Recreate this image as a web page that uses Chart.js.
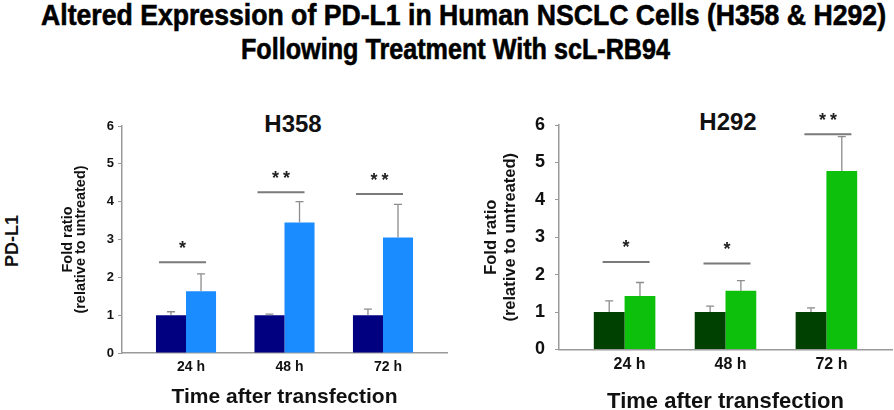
<!DOCTYPE html>
<html>
<head>
<meta charset="utf-8">
<script src="https://cdn.jsdelivr.net/npm/chart.js@4/dist/chart.umd.min.js"></script>
<style>
  body { margin: 0; width: 894px; height: 410px; background: #fff; position: relative; overflow: hidden;
         font-family: "Liberation Sans", Arial, sans-serif; color: #111; }
  .txt { position: absolute; font-weight: bold; white-space: nowrap; transform: translateX(-50%); }
  .main { font-size: 30px; line-height: 30px; transform-origin: 0 0; color: #000; -webkit-text-stroke: 0.6px #000; }
  .sub { font-size: 24px; line-height: 24px; }
  #pdl1 { position: absolute; left: 12px; top: 241px; font-weight: bold; font-size: 18px;
          transform: translate(-50%, -50%) rotate(-90deg); white-space: nowrap; }
  canvas { position: absolute; }
</style>
</head>
<body>
<div class="txt main" id="title1" data-left="41" data-width="845" style="top:0px;">Altered Expression of PD-L1 in Human NSCLC Cells (H358 &amp; H292)</div>
<div class="txt main" id="title2" data-left="241" data-width="429" style="top:34px;">Following Treatment With scL-RB94</div>
<div class="txt sub" style="left:293px; top:112px;">H358</div>
<div class="txt sub" style="left:728px; top:110px;">H292</div>
<div id="pdl1">PD-L1</div>

<div style="position:absolute; left:50px; top:95px; width:400px; height:315px;"><canvas id="h358Chart"></canvas></div>
<div style="position:absolute; left:478px; top:95px; width:416px; height:315px;"><canvas id="h292Chart"></canvas></div>

<script>
// time points
const timeLabels = ['24 h', '48 h', '72 h'];

// H358 fold ratios
const h358Control = [1.0, 1.0, 1.0];
const h358Treated = [1.63, 3.45, 3.05];
const h358ControlErr = [0.09, 0.03, 0.16];
const h358TreatedErr = [0.46, 0.55, 0.88];
const h358SigLevel = [2.4, 4.25, 4.2];
const h358SigMark = ['*', '**', '**'];

// H292 fold ratios
const h292Control = [1.0, 1.0, 1.0];
const h292Treated = [1.43, 1.57, 4.77];
const h292ControlErr = [0.3, 0.16, 0.11];
const h292TreatedErr = [0.36, 0.27, 0.92];
const h292SigLevel = [2.34, 2.3, 5.75];
const h292SigMark = ['*', '*', '**'];

const yTitle = ['Fold ratio', '(relative to untreated)'];
const xTitle = 'Time after transfection';

// the original title uses a narrow font, squeeze the text to its width
['title1', 'title2'].forEach(id => {
  const el = document.getElementById(id);
  const w = el.getBoundingClientRect().width;
  el.style.left = el.dataset.left + 'px';
  el.style.transform = 'scaleX(' + (el.dataset.width / w) + ')';
});

// error bars + significance bars drawn on top of the bars
const annotate = {
  id: 'annotate',
  afterDatasetsDraw(chart, args, opts) {
    const ctx = chart.ctx;
    const x = chart.scales.x, y = chart.scales.y;
    ctx.save();
    ctx.strokeStyle = '#8c8c8c';
    ctx.lineWidth = 1.3;
    chart.data.datasets.forEach((ds, di) => {
      chart.getDatasetMeta(di).data.forEach((bar, i) => {
        const top = y.getPixelForValue(ds.data[i].y + ds.errors[i]);
        ctx.beginPath();
        ctx.moveTo(bar.x, bar.y);
        ctx.lineTo(bar.x, top);
        ctx.moveTo(bar.x - 4, top);
        ctx.lineTo(bar.x + 4, top);
        ctx.stroke();
      });
    });
    ctx.strokeStyle = '#7a7a7a';
    ctx.lineWidth = 2;
    ctx.fillStyle = '#222';
    ctx.font = 'bold 18px "Liberation Sans", Arial, sans-serif';
    ctx.textAlign = 'center';
    ctx.textBaseline = 'alphabetic';
    opts.levels.forEach((lv, i) => {
      const cx = x.getPixelForValue(i) + opts.shift;
      const ly = y.getPixelForValue(lv);
      ctx.beginPath();
      ctx.moveTo(cx - 23.5, ly);
      ctx.lineTo(cx + 23.5, ly);
      ctx.stroke();
      const mark = opts.marks[i];
      for (let k = 0; k < mark.length; k++) {
        ctx.fillText(mark[k], cx + (k - (mark.length - 1) / 2) * 11, ly - 8.5);
      }
    });
    ctx.restore();
  }
};

function makeChart(id, control, treated, controlErr, treatedErr, sigLevel, sigMark, colors, geo) {
  const points = arr => arr.map((v, i) => ({ x: i, y: v }));
  return new Chart(document.getElementById(id), {
    type: 'bar',
    data: {
      datasets: [
        { label: 'Untreated', data: points(control), errors: controlErr, backgroundColor: colors[0] },
        { label: 'scL-RB94', data: points(treated), errors: treatedErr, backgroundColor: colors[1] }
      ]
    },
    options: {
      responsive: true,
      maintainAspectRatio: false,
      animation: false,
      categoryPercentage: 0.61,
      barPercentage: 1,
      layout: { padding: { top: geo.top, right: geo.right, left: 0, bottom: 0 } },
      plugins: {
        legend: { display: false },
        tooltip: { enabled: false },
        annotate: { levels: sigLevel, marks: sigMark, shift: geo.shift }
      },
      scales: {
        x: {
          type: 'linear',
          offset: false,
          min: -0.65,
          max: 2.65,
          afterBuildTicks: s => { s.ticks = timeLabels.map((_, i) => ({ value: i })); },
          afterFit: s => { s.height = geo.xHeight; s.paddingLeft = 0; s.paddingRight = 0; },
          grid: { display: false, drawTicks: false, offset: false },
          border: { color: '#9a9a9a', width: 1.5 },
          ticks: {
            callback: v => timeLabels[v],
            labelOffset: 5,
            padding: geo.xTickPad,
            color: '#111',
            font: { size: geo.xTickSize, weight: 'bold', family: '"Liberation Sans", Arial, sans-serif' }
          },
          title: {
            display: true,
            text: xTitle,
            color: '#111',
            padding: { top: 0, bottom: 0 },
            font: { size: geo.xTitleSize, weight: 'bold', lineHeight: geo.xTitleLH, family: '"Liberation Sans", Arial, sans-serif' }
          }
        },
        y: {
          min: 0,
          max: 6,
          afterFit: s => { s.width = geo.yWidth; },
          grid: { drawOnChartArea: false, drawTicks: true, tickLength: 4, color: '#9a9a9a' },
          border: { color: '#9a9a9a', width: 1.5 },
          ticks: {
            stepSize: 1,
            padding: geo.yTickPad,
            color: '#111',
            font: { size: geo.yTickSize, weight: 'bold', family: '"Liberation Sans", Arial, sans-serif' }
          },
          title: {
            display: true,
            text: yTitle,
            color: '#111',
            padding: { top: geo.yTitlePad, bottom: 0 },
            font: { size: geo.yTitleSize, weight: 'bold', lineHeight: geo.yTitleLH, family: '"Liberation Sans", Arial, sans-serif' }
          }
        }
      }
    },
    plugins: [annotate]
  });
}

makeChart('h358Chart', h358Control, h358Treated, h358ControlErr, h358TreatedErr, h358SigLevel, h358SigMark,
  ['#000080', '#1a8cff'],
  { top: 31, right: 3, yWidth: 72, xHeight: 57, shift: -3.5, xTickPad: 6, xTickSize: 14, xTitleSize: 21, xTitleLH: 1.2,
    yTickPad: 4, yTickSize: 13, yTitleSize: 14.5, yTitleLH: 0.93, yTitlePad: 11 });

makeChart('h292Chart', h292Control, h292Treated, h292ControlErr, h292TreatedErr, h292SigLevel, h292SigMark,
  ['#004000', '#0cc00c'],
  { top: 30, right: 2, yWidth: 81, xHeight: 60.5, shift: 1.5, xTickPad: 5, xTickSize: 16, xTitleSize: 22, xTitleLH: 0.75,
    yTickPad: 10, yTickSize: 18, yTitleSize: 16.5, yTitleLH: 1.15, yTitlePad: 4 });
</script>
</body>
</html>
